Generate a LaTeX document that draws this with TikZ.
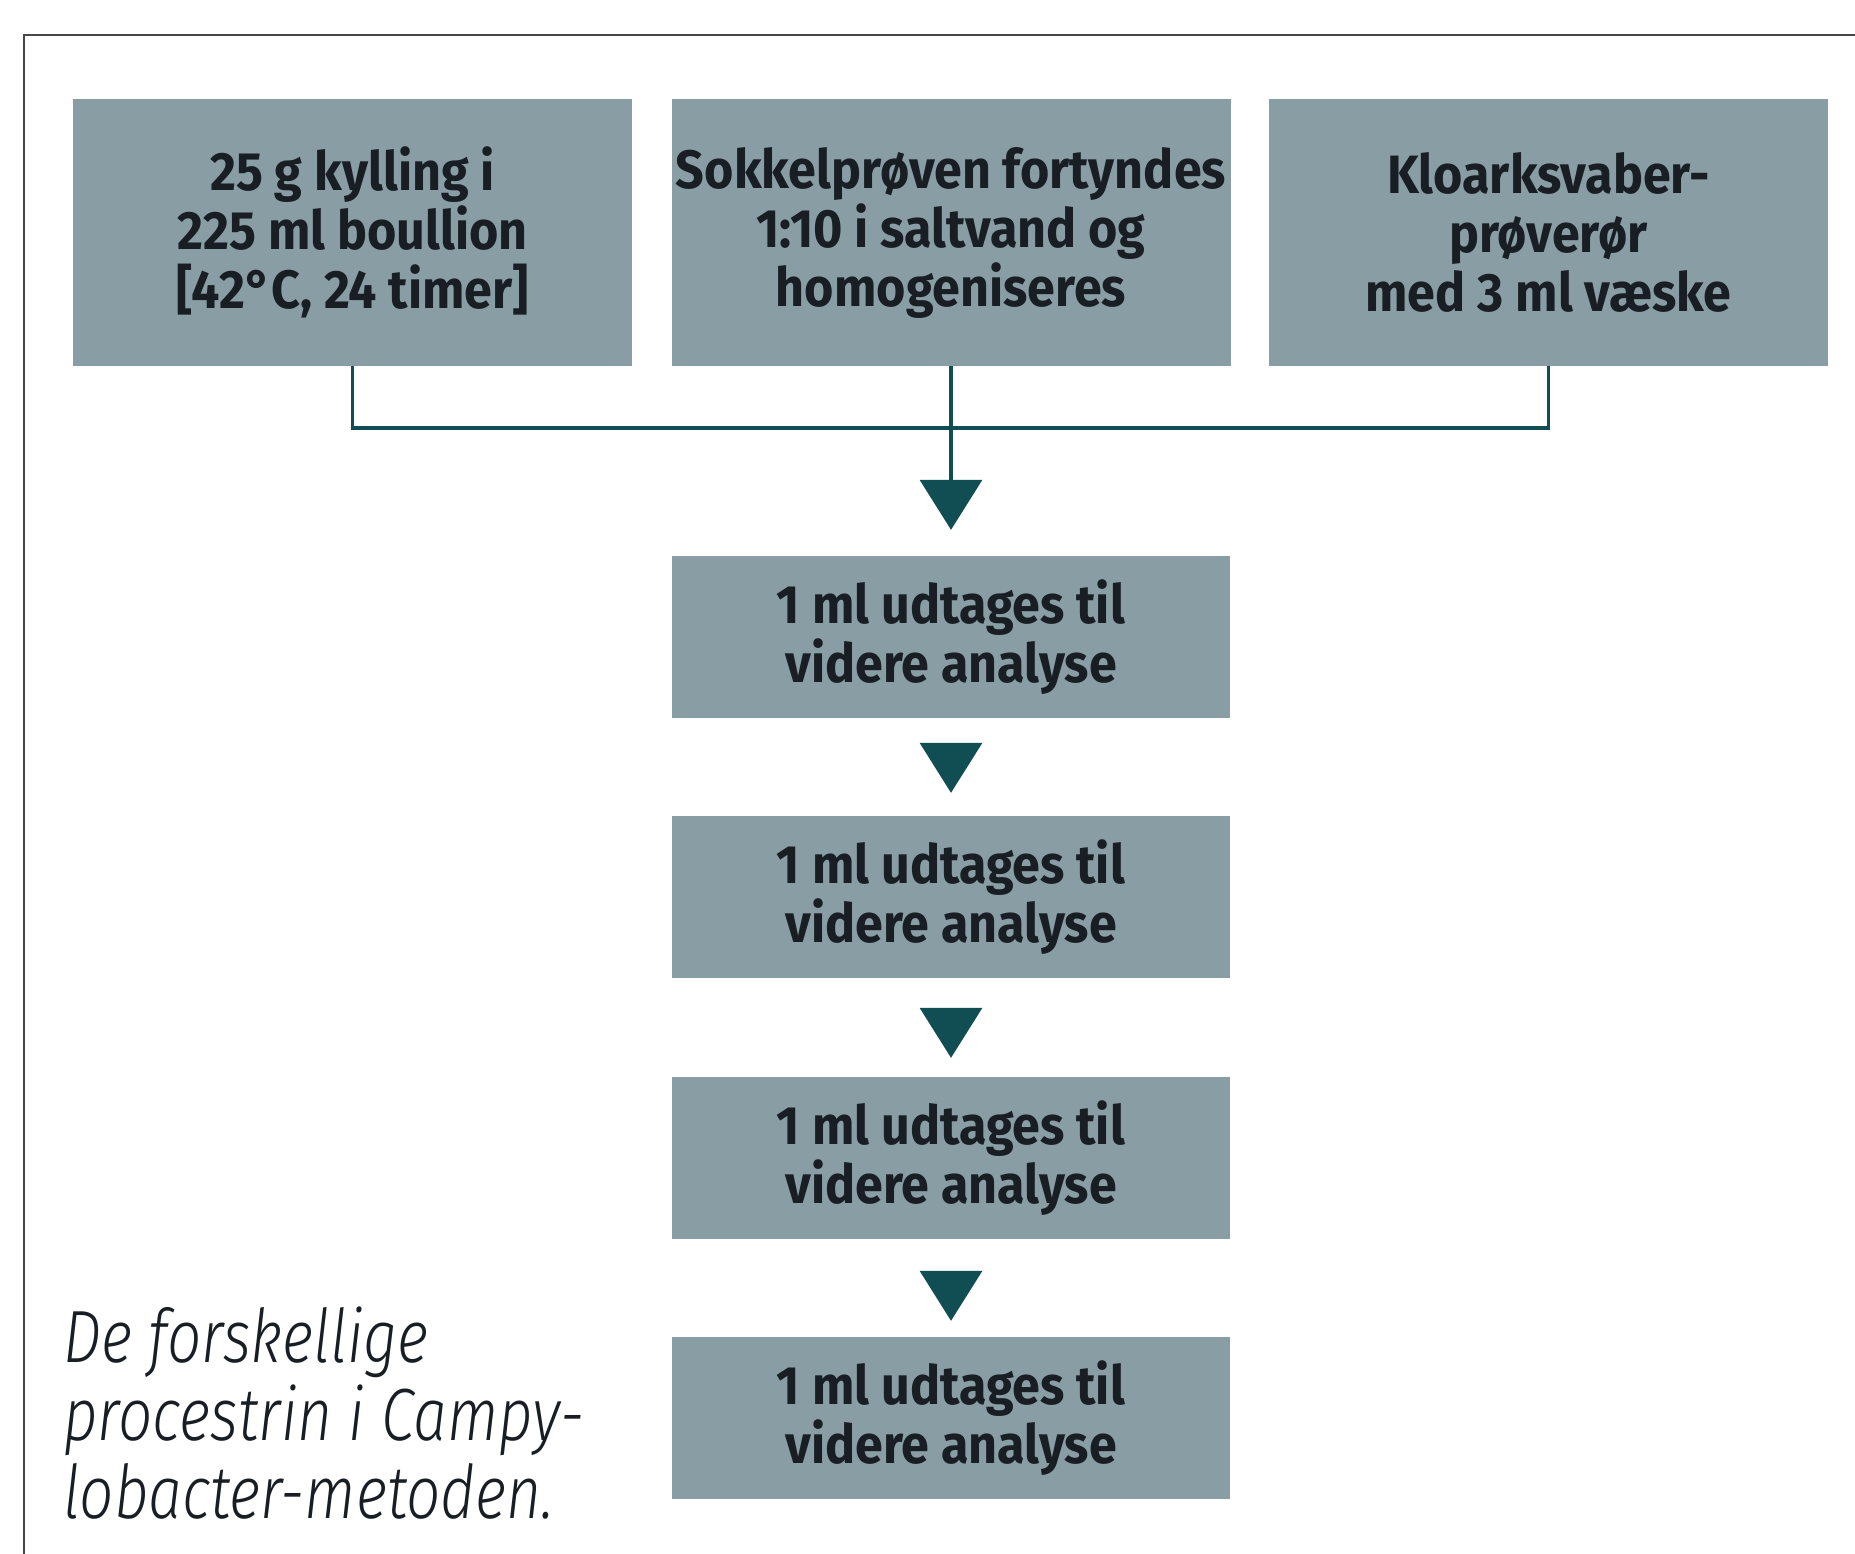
\documentclass[tikz,border=0pt]{standalone}
\usepackage{fontspec}
\setmainfont{Fira Sans}[FakeStretch=0.93]
\newfontfamily\capfont{Fira Sans Light Italic}[FakeStretch=0.815]
\usetikzlibrary{arrows.meta}
\definecolor{boxgrey}{RGB}{137,157,164}
\definecolor{teal}{RGB}{16,78,84}
\definecolor{txt}{RGB}{24,30,36}
\definecolor{frame}{RGB}{70,70,70}
\tikzset{
  procbox/.style={fill=boxgrey, draw=none, align=center, text=txt,
    font=\bfseries\fontsize{54}{59}\selectfont, inner sep=0pt},
  topbox/.style={procbox, minimum width=559pt, minimum height=267pt},
  lowbox/.style={procbox, minimum width=558pt, minimum height=162pt},
  link/.style={draw=teal, line width=3.5pt},
  tri/.style={draw=teal, line width=3.5pt, -{Triangle[width=62pt,length=50pt]}, teal},
}
\begin{document}
\begin{tikzpicture}[x=1pt,y=-1pt]
\useasboundingbox (0,0) rectangle (1855,1553);
\fill[white] (0,0) rectangle (1855,1553);
\draw[frame, line width=2.5pt] (1856,35) -- (24,35) -- (24,1554);

\node[topbox] (b1) at (352.5,232.5) {25 g kylling i\\225 ml boullion\\{[}42°C, 24 timer{]}};
\node[topbox] (b2) at (951,232.5) {Sokkelprøven fortyndes\\1:10 i saltvand og\\homogeniseres};
\node[topbox] (b3) at (1548.5,232.5) {Kloarksvaber-\\prøverør\\med 3 ml væske};

\node[lowbox] (b4) at (951,637) {1 ml udtages til\\videre analyse};
\node[lowbox] (b5) at (951,897) {1 ml udtages til\\videre analyse};
\node[lowbox] (b6) at (951,1158) {1 ml udtages til\\videre analyse};
\node[lowbox] (b7) at (951,1418) {1 ml udtages til\\videre analyse};

\coordinate (j) at (951,428);
\draw[link] (b1.south) |- (j) -| (b3.south);
\draw[link] (b2.south) -- (j);
\draw[tri, shorten >=26pt] (j) -- (b4.north);
\draw[tri, shorten <=25pt, shorten >=23pt] (b4.south) -- (b5.north);
\draw[tri, shorten <=30pt, shorten >=19pt] (b5.south) -- (b6.north);
\draw[tri, shorten <=33pt, shorten >=16pt] (b6.south) -- (b7.north);

\node[anchor=base west, align=left, text=txt, inner sep=0pt,
  font=\capfont\fontsize{74}{78}\selectfont] (cap) at (63,1518)
  {De forskellige\\procestrin i Campy-\\lobacter-metoden.};
\end{tikzpicture}
\end{document}
